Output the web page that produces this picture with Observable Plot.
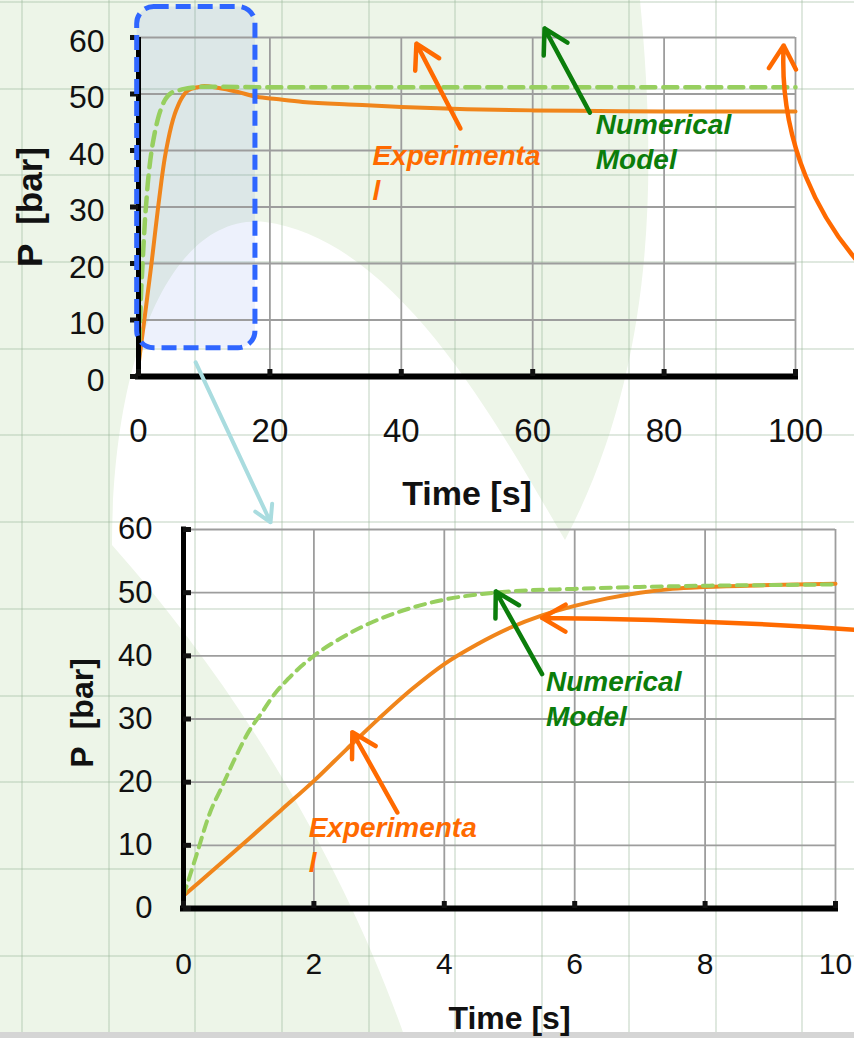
<!DOCTYPE html>
<html>
<head>
<meta charset="utf-8">
<script src="https://cdn.jsdelivr.net/npm/d3@7"></script>
<script src="https://cdn.jsdelivr.net/npm/@observablehq/plot@0.6"></script>
<style>
  html, body { margin: 0; padding: 0; background: #ffffff; }
  #wrap { position: relative; width: 854px; height: 1038px; overflow: hidden; font-family: 'Liberation Sans', Arial, Helvetica, sans-serif; }
  #bg { position: absolute; left: 0; top: 0; }
  #paper { position: absolute; left: 0; top: 0; width: 854px; height: 1038px;
    background-image:
      repeating-linear-gradient(90deg, rgba(150,180,150,0.30) 0px, rgba(150,180,150,0.30) 2px, transparent 2px, transparent 86.7px),
      repeating-linear-gradient(180deg, rgba(150,180,150,0.30) 0px, rgba(150,180,150,0.30) 2px, transparent 2px, transparent 86.7px);
    background-position: 21px 0, 0 1px; }
  #band { position: absolute; left: 0; top: 1032px; width: 854px; height: 6px; background: #d5d5d5; }
  .chart { position: absolute; left: 0; top: 0; }
</style>
</head>
<body>
<div id="wrap">
  <svg id="bg" width="854" height="1038" viewBox="0 0 854 1038">
    <rect x="0" y="0" width="854" height="1038" fill="#edf5e8"></rect>
    <path d="M 640 0 C 655 160, 660 360, 565 540 C 500 430, 400 240, 265 222 C 170 212, 112 360, 112 545 C 250 700, 350 880, 405 1038 L 854 1038 L 854 0 Z" fill="#ffffff"></path>
  </svg>
  <div id="paper"></div>
  <div id="band"></div>
  <div id="top" class="chart"></div>
  <div id="bottom" class="chart"></div>
</div>
<script>
// ---------- data ----------
const expT = [0, 0.5, 1, 1.5, 2, 2.5, 3, 3.5, 4, 4.5, 5, 5.5, 6, 6.5, 7, 7.5, 8, 9, 10, 12, 15, 18, 21, 25, 33, 40, 50, 60, 70, 80, 90, 100];
const expP = [2, 6.5, 11, 15.6, 20.2, 25.2, 30.1, 34.7, 38.7, 41.8, 44.4, 46.4, 47.9, 49.1, 50, 50.6, 50.9, 51.2, 51.4, 51.1, 50.4, 49.5, 49.1, 48.6, 48.1, 47.7, 47.3, 47.1, 47, 46.9, 46.9, 46.9];
const numT = [0, 0.2, 0.4, 0.6, 0.8, 1.0, 1.2, 1.4, 1.6, 1.8, 2.0, 2.5, 3.0, 3.5, 4.0, 4.5, 5, 6, 7, 8, 9, 10, 20, 40, 60, 80, 100];
const numP = [2, 8.5, 15, 19.5, 24, 28, 31, 34, 36.3, 38.3, 40, 43.3, 45.8, 47.6, 48.9, 49.7, 50.2, 50.6, 50.9, 51.1, 51.2, 51.3, 51.2, 51.2, 51.2, 51.2, 51.2];

const xTicksTop = [0, 20, 40, 60, 80, 100];
const xTicksBottom = [0, 2, 4, 6, 8, 10];
const yTicks = [0, 10, 20, 30, 40, 50, 60];

const xLabel = "Time [s]";
const yLabel = "P  [bar]";
const expLabel = "Experimenta\nl";
const numLabel = "Numerical\nModel";

// annotation anchors (in data units of each panel)
const topExpText = [{x: 35.6, y: 41.8}];
const topNumText = [{x: 69.6, y: 47.4}];
const topExpArrow = [{x1: 49, y1: 43.9, x2: 42.3, y2: 58.9}];
const topNumArrow = [{x1: 68.7, y1: 46.7, x2: 61.8, y2: 61.6}];
const topSideArrow = [{x1: 113, y1: 16.1, x2: 98.2, y2: 58.6}];
const zoomBox = [{x1: -0.2, x2: 17.8, y1: 5.0, y2: 65.4}];
const zoomLink = [{x1: 8.7, y1: 2.5, x2: 20.1, y2: -25.8}];

const botExpText = [{x: 1.92, y: 15.2}];
const botNumText = [{x: 5.56, y: 38.4}];
const botExpArrow = [{x1: 3.28, y1: 15.2, x2: 2.59, y2: 27.9}];
const botNumArrow = [{x1: 5.5, y1: 37.1, x2: 4.79, y2: 50.2}];
const botSideArrow = [{x1: 11.0, y1: 43.6, x2: 5.5, y2: 46.0}];

// ---------- tables ----------
const expData = expT.map((t, i) => ({t, p: expP[i]}));
const numData = numT.map((t, i) => ({t, p: numP[i]}));

// ---------- styles ----------
const FONT = "'Liberation Sans', Arial, Helvetica, sans-serif";
const C_EXP = "#f0851b";
const C_NUM = "#97cf5f";
const C_ANN_O = "#ff6a00";
const C_ANN_G = "#0b7d0b";
const C_GRID = "#9d9d9d";
const annText = {textAnchor: "start", lineAnchor: "top", fontSize: 28, fontWeight: "bold", fontStyle: "italic", lineHeight: 1.25};

// ---------- top panel ----------
const topPlot = Plot.plot({
  width: 854, height: 1038,
  marginLeft: 138, marginRight: 59, marginTop: 37, marginBottom: 662,
  x: {domain: [0, 100]},
  y: {domain: [0, 60]},
  style: {background: "transparent", overflow: "visible", fontFamily: FONT, color: "#111"},
  marks: [
    Plot.rect(zoomBox, {x1: "x1", x2: "x2", y1: "y1", y2: "y2", rx: 17, fill: "#3c64dc", fillOpacity: 0.09}),
    Plot.ruleX(xTicksTop.slice(1), {stroke: C_GRID, strokeWidth: 1.8}),
    Plot.ruleY(yTicks.slice(1), {stroke: C_GRID, strokeWidth: 1.8}),
    Plot.line(expData, {x: "t", y: "p", stroke: C_EXP, strokeWidth: 4, curve: "monotone-x"}),
    Plot.line(numData, {x: "t", y: "p", stroke: C_NUM, strokeWidth: 4.5, strokeDasharray: "14,8", curve: "monotone-x"}),
    Plot.ruleY([0], {stroke: "black", strokeWidth: 6, strokeLinecap: "square"}),
    Plot.ruleX([0], {stroke: "black", strokeWidth: 5}),
    Plot.axisX(xTicksTop, {tickSize: 7, dy: -7, strokeWidth: 5, tickFormat: () => "", label: null}),
    Plot.axisX(xTicksTop, {tickSize: 0, tickPadding: 42, fontSize: 33, label: null}),
    Plot.axisY(yTicks, {tickSize: 8, strokeWidth: 5, tickFormat: () => "", label: null}),
    Plot.axisY(yTicks, {tickSize: 0, tickPadding: 34, dy: 4, fontSize: 32, label: null}),
    Plot.text([xLabel], {frameAnchor: "bottom", textAnchor: "middle", lineAnchor: "middle", dy: 118, fontSize: 34, fontWeight: "bold"}),
    Plot.text([yLabel], {frameAnchor: "left", textAnchor: "middle", lineAnchor: "middle", rotate: -90, dx: -108, fontSize: 35, fontWeight: "bold"}),
    Plot.rect(zoomBox, {x1: "x1", x2: "x2", y1: "y1", y2: "y2", rx: 17, fill: "none", stroke: "#2f66ff", strokeWidth: 5, strokeDasharray: "15,7"}),
    Plot.arrow(zoomLink, {x1: "x1", y1: "y1", x2: "x2", y2: "y2", stroke: "#a9dcdf", strokeWidth: 4, headLength: 7}),
    Plot.arrow(topExpArrow, {x1: "x1", y1: "y1", x2: "x2", y2: "y2", stroke: C_ANN_O, strokeWidth: 4.5, headLength: 9}),
    Plot.arrow(topNumArrow, {x1: "x1", y1: "y1", x2: "x2", y2: "y2", stroke: C_ANN_G, strokeWidth: 4.5, headLength: 9}),
    Plot.arrow(topSideArrow, {x1: "x1", y1: "y1", x2: "x2", y2: "y2", stroke: C_ANN_O, strokeWidth: 4.5, headLength: 9, bend: 25}),
    Plot.text(topExpText, {x: "x", y: "y", text: () => expLabel, fill: C_ANN_O, ...annText}),
    Plot.text(topNumText, {x: "x", y: "y", text: () => numLabel, fill: C_ANN_G, ...annText})
  ]
});
document.getElementById("top").appendChild(topPlot);

// ---------- bottom panel ----------
const botPlot = Plot.plot({
  width: 854, height: 1038,
  marginLeft: 183, marginRight: 19, marginTop: 529, marginBottom: 130,
  x: {domain: [0, 10]},
  y: {domain: [0, 60]},
  style: {background: "transparent", overflow: "visible", fontFamily: FONT, color: "#111"},
  marks: [
    Plot.ruleX(xTicksBottom.slice(1), {stroke: C_GRID, strokeWidth: 1.8}),
    Plot.ruleY(yTicks.slice(1), {stroke: C_GRID, strokeWidth: 1.8}),
    Plot.line(expData.filter(d => d.t <= 10), {x: "t", y: "p", stroke: C_EXP, strokeWidth: 4, curve: "monotone-x"}),
    Plot.line(numData.filter(d => d.t <= 10), {x: "t", y: "p", stroke: C_NUM, strokeWidth: 4, strokeDasharray: "10,7", curve: "monotone-x"}),
    Plot.ruleY([0], {stroke: "black", strokeWidth: 6, strokeLinecap: "square"}),
    Plot.ruleX([0], {stroke: "black", strokeWidth: 5, strokeLinecap: "square"}),
    Plot.axisX(xTicksBottom, {tickSize: 7, dy: -7, strokeWidth: 5, tickFormat: () => "", label: null}),
    Plot.axisX(xTicksBottom, {tickSize: 0, tickPadding: 44, fontSize: 30, label: null}),
    Plot.axisY(yTicks, {tickSize: 8, dx: 8, strokeWidth: 5, tickFormat: () => "", label: null}),
    Plot.axisY(yTicks, {tickSize: 0, tickPadding: 31, fontSize: 31, label: null}),
    Plot.text([xLabel], {frameAnchor: "bottom", textAnchor: "middle", lineAnchor: "middle", dy: 110, fontSize: 32, fontWeight: "bold"}),
    Plot.text([yLabel], {frameAnchor: "left", textAnchor: "middle", lineAnchor: "middle", rotate: -90, dx: -101, dy: -6, fontSize: 32, fontWeight: "bold"}),
    Plot.arrow(botExpArrow, {x1: "x1", y1: "y1", x2: "x2", y2: "y2", stroke: C_ANN_O, strokeWidth: 4.5, headLength: 9}),
    Plot.arrow(botNumArrow, {x1: "x1", y1: "y1", x2: "x2", y2: "y2", stroke: C_ANN_G, strokeWidth: 4.5, headLength: 9}),
    Plot.arrow(botSideArrow, {x1: "x1", y1: "y1", x2: "x2", y2: "y2", stroke: C_ANN_O, strokeWidth: 4.5, headLength: 9, bend: -2}),
    Plot.text(botExpText, {x: "x", y: "y", text: () => expLabel, fill: C_ANN_O, ...annText}),
    Plot.text(botNumText, {x: "x", y: "y", text: () => numLabel, fill: C_ANN_G, ...annText})
  ]
});
document.getElementById("bottom").appendChild(botPlot);
</script>
</body>
</html>
